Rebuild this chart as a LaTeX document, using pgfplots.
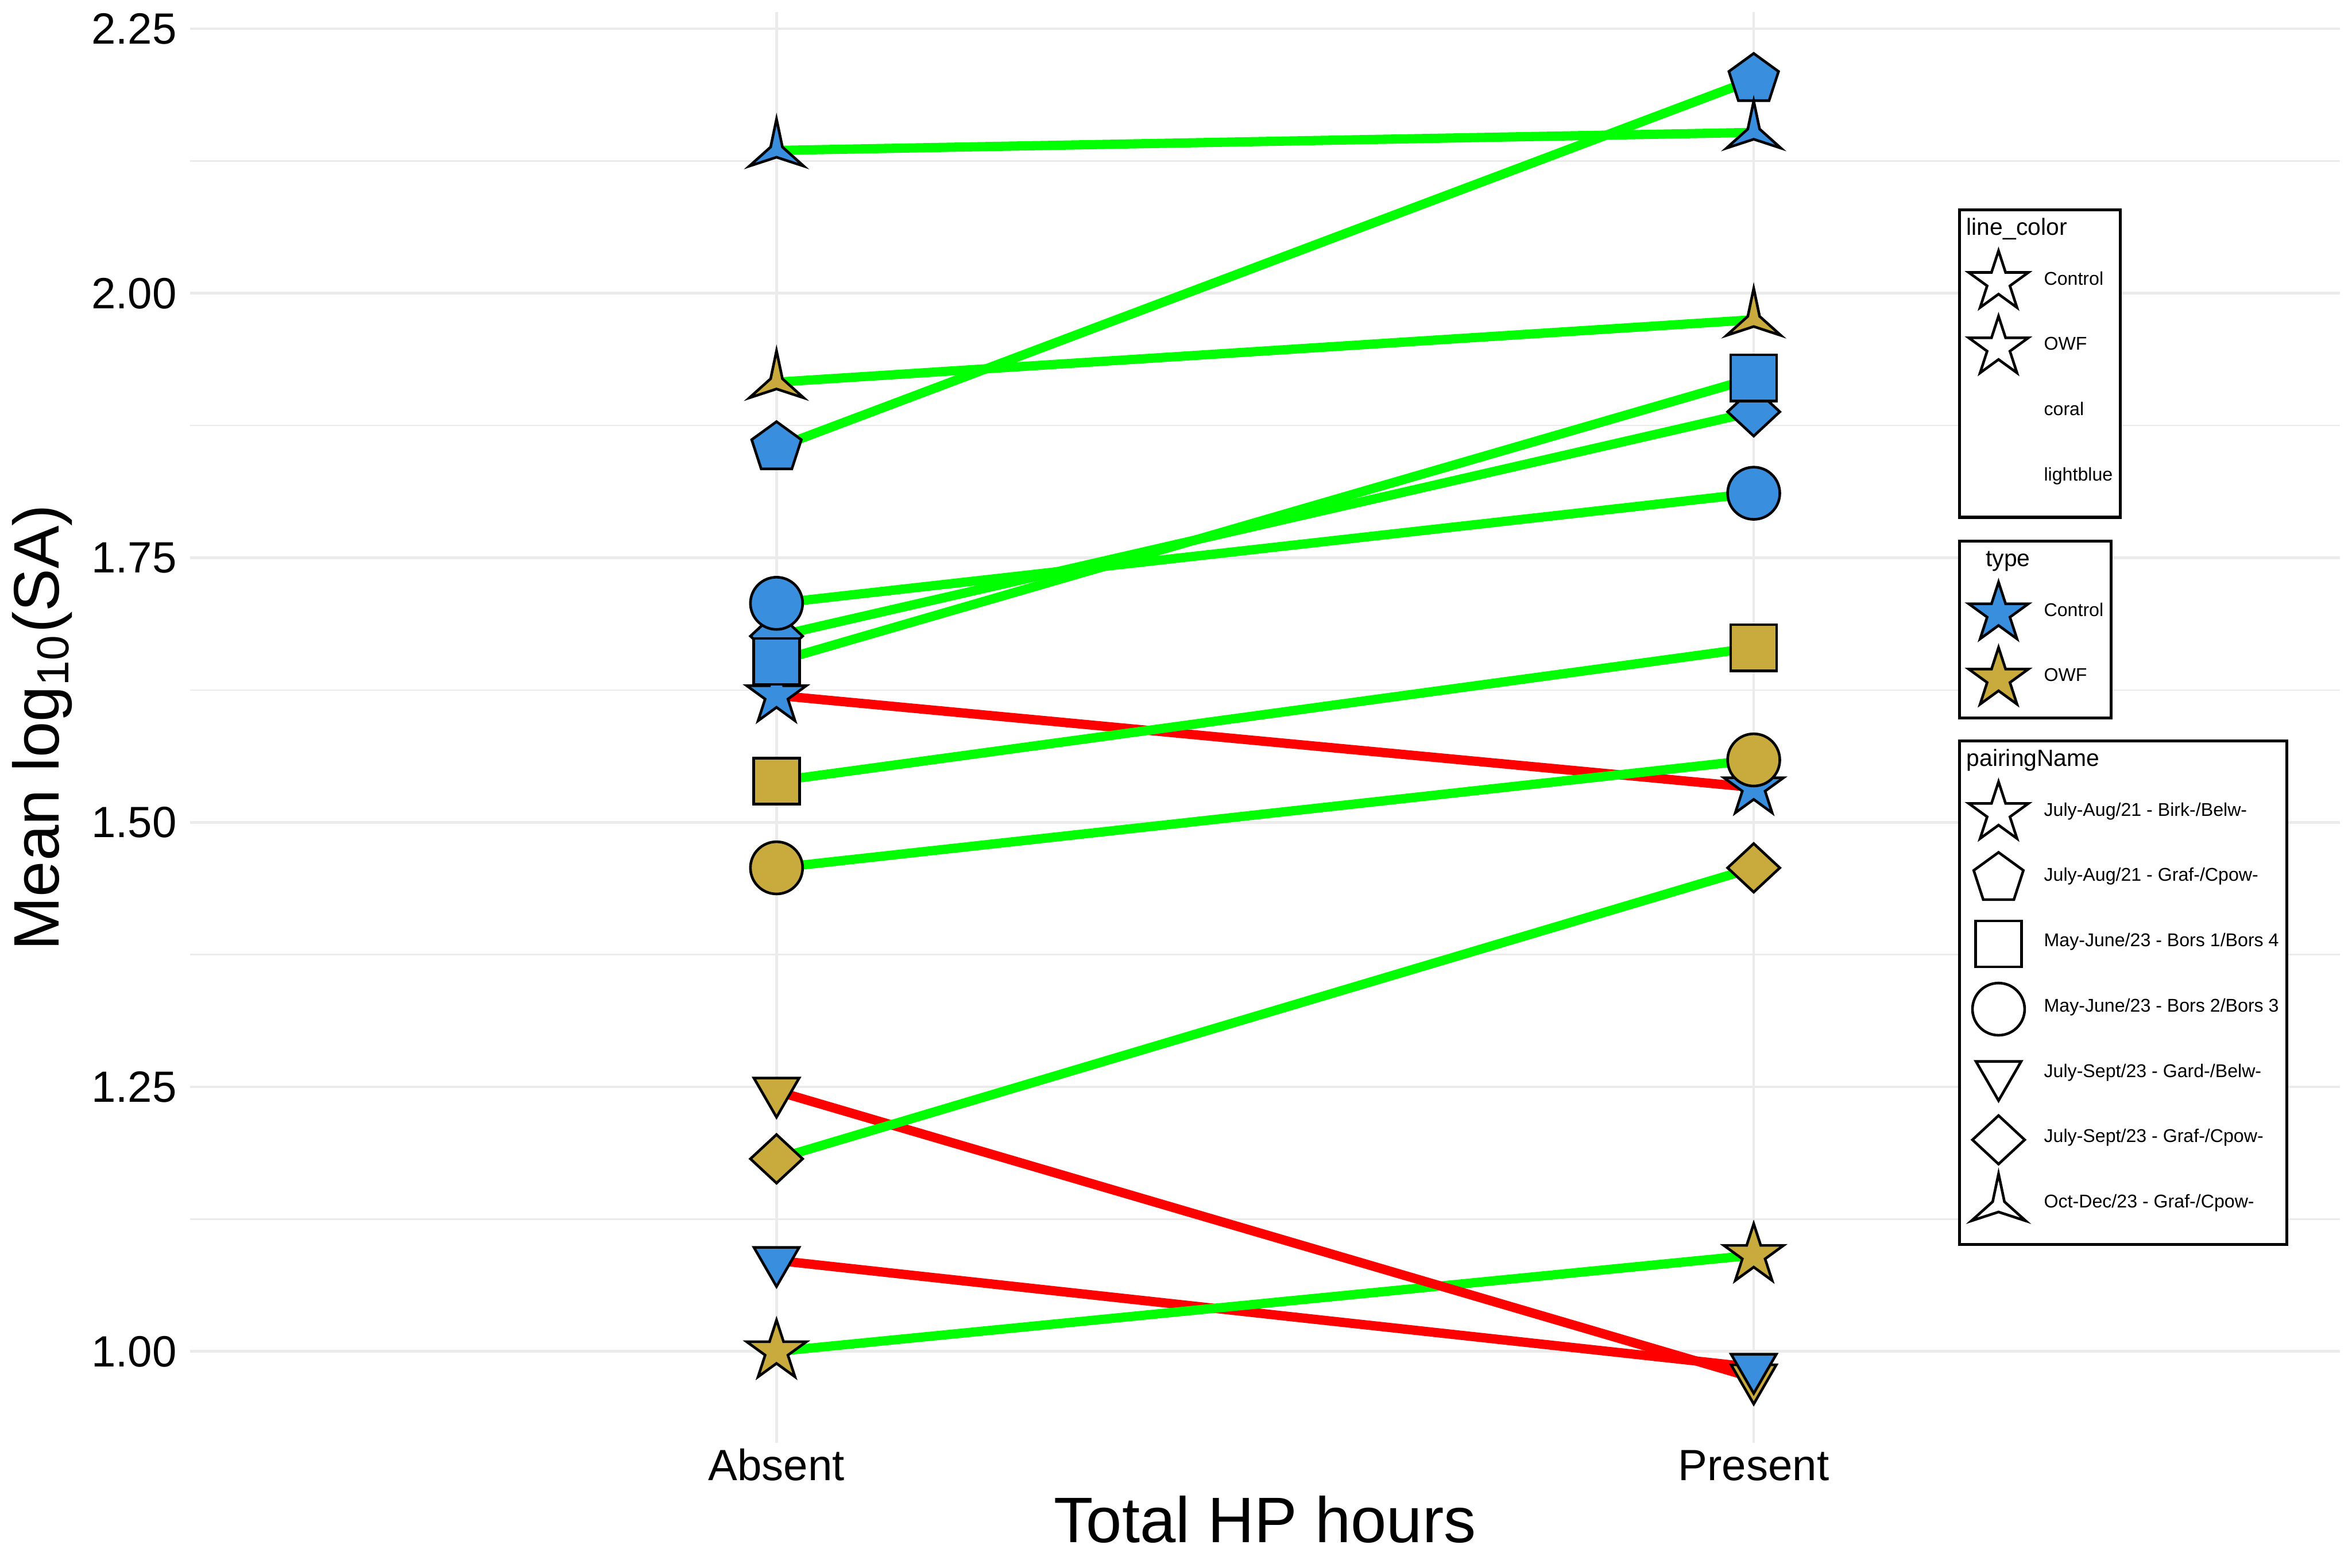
\documentclass[border=0pt]{standalone}
\usepackage{fontspec}
\setmainfont{Liberation Sans}
\usepackage{pgfplots}
\pgfplotsset{compat=1.18}
\usetikzlibrary{plotmarks}

\definecolor{cblue}{RGB}{58,142,222}
\definecolor{cgold}{RGB}{201,170,61}
\definecolor{cgreen}{RGB}{0,255,0}
\definecolor{cred}{RGB}{255,0,0}
\definecolor{cgrid}{RGB}{235,235,235}

% five-pointed star
\pgfdeclareplotmark{gstar}{%
  \pgfpathmoveto{\pgfpointpolar{90}{\pgfplotmarksize}}%
  \pgfpathlineto{\pgfpointpolar{126}{0.382\pgfplotmarksize}}%
  \pgfpathlineto{\pgfpointpolar{162}{\pgfplotmarksize}}%
  \pgfpathlineto{\pgfpointpolar{198}{0.382\pgfplotmarksize}}%
  \pgfpathlineto{\pgfpointpolar{234}{\pgfplotmarksize}}%
  \pgfpathlineto{\pgfpointpolar{270}{0.382\pgfplotmarksize}}%
  \pgfpathlineto{\pgfpointpolar{306}{\pgfplotmarksize}}%
  \pgfpathlineto{\pgfpointpolar{342}{0.382\pgfplotmarksize}}%
  \pgfpathlineto{\pgfpointpolar{18}{\pgfplotmarksize}}%
  \pgfpathlineto{\pgfpointpolar{54}{0.382\pgfplotmarksize}}%
  \pgfpathclose
  \pgfusepathqfillstroke}
% three-pointed star
\pgfdeclareplotmark{tstar}{%
  \pgfpathmoveto{\pgfpointpolar{90}{\pgfplotmarksize}}%
  \pgfpathlineto{\pgfpointpolar{150}{0.217\pgfplotmarksize}}%
  \pgfpathlineto{\pgfpointpolar{210}{\pgfplotmarksize}}%
  \pgfpathlineto{\pgfpointpolar{270}{0.217\pgfplotmarksize}}%
  \pgfpathlineto{\pgfpointpolar{330}{\pgfplotmarksize}}%
  \pgfpathlineto{\pgfpointpolar{30}{0.217\pgfplotmarksize}}%
  \pgfpathclose
  \pgfusepathqfillstroke}
% pentagon
\pgfdeclareplotmark{gpent}{%
  \pgfpathmoveto{\pgfpointpolar{90}{\pgfplotmarksize}}%
  \pgfpathlineto{\pgfpointpolar{162}{\pgfplotmarksize}}%
  \pgfpathlineto{\pgfpointpolar{234}{\pgfplotmarksize}}%
  \pgfpathlineto{\pgfpointpolar{306}{\pgfplotmarksize}}%
  \pgfpathlineto{\pgfpointpolar{18}{\pgfplotmarksize}}%
  \pgfpathclose
  \pgfusepathqfillstroke}
% diamond
\pgfdeclareplotmark{gdiam}{%
  \pgfpathmoveto{\pgfpoint{0pt}{0.93\pgfplotmarksize}}%
  \pgfpathlineto{\pgfpoint{\pgfplotmarksize}{0pt}}%
  \pgfpathlineto{\pgfpoint{0pt}{-0.93\pgfplotmarksize}}%
  \pgfpathlineto{\pgfpoint{-\pgfplotmarksize}{0pt}}%
  \pgfpathclose
  \pgfusepathqfillstroke}
% triangle pointing down
\pgfdeclareplotmark{gtri}{%
  \pgfpathmoveto{\pgfpointpolar{270}{\pgfplotmarksize}}%
  \pgfpathlineto{\pgfpointpolar{30}{\pgfplotmarksize}}%
  \pgfpathlineto{\pgfpointpolar{150}{\pgfplotmarksize}}%
  \pgfpathclose
  \pgfusepathqfillstroke}
% square
\pgfdeclareplotmark{gsq}{%
  \pgfpathrectangle{\pgfpoint{-\pgfplotmarksize}{-\pgfplotmarksize}}{\pgfpoint{2\pgfplotmarksize}{2\pgfplotmarksize}}%
  \pgfusepathqfillstroke}
% circle
\pgfdeclareplotmark{gcirc}{%
  \pgfpathcircle{\pgfpointorigin}{\pgfplotmarksize}%
  \pgfusepathqfillstroke}

\tikzset{
  ltitle/.style={anchor=base west, text height=0.122cm, text depth=0.094cm, font=\fontsize{4.45}{5}\selectfont},
  mk/.style={mark options={draw=black, line width=0.5pt, fill=#1}},
}

\pgfplotsset{
  common/.style={
    scale only axis, width=14.331cm, height=9.540cm,
    xmin=-0.6, xmax=1.6, ymin=0.9135, ymax=2.2658,
    clip=false,
  },
  mylegend/.style={
    legend cell align=left,
    legend style={
      anchor=north west,
      draw=black, line width=0.55pt, fill=white,
      inner xsep=0.052cm, inner ysep=0.0453cm,
      row sep=0pt, column sep=0pt,
      font=\fontsize{3.5}{4}\selectfont,
      nodes={inner sep=0pt, anchor=west},
    },
    legend image code/.code={%
      \path[draw=none, fill=none] (-0.209cm,-0.2156cm) rectangle (0.303cm,0.22cm);
      \draw[##1] plot coordinates {(0cm,0cm)};
    },
  },
}

\begin{document}
\begin{tikzpicture}
\path[use as bounding box] (-1.268cm,-0.833cm) rectangle (14.411cm,9.620cm);

\begin{axis}[
  common, mylegend,
  legend style={at={(axis description cs:0.82227,0.86268)}},
  axis line style={draw=none},
  tick style={draw=none},
  xtick={0,1}, xticklabels={Absent,Present},
  ytick={1,1.25,1.5,1.75,2,2.25},
  minor ytick={1.125,1.375,1.625,1.875,2.125},
  grid=both,
  major grid style={cgrid, line width=0.5pt},
  minor grid style={cgrid, line width=0.28pt},
  /pgf/number format/assume math mode=true,
  yticklabel={\pgfmathprintnumber[fixed, fixed zerofill, precision=2]{\tick}},
  ticklabel style={font=\fontsize{8.3}{10}\selectfont},
  xticklabel style={anchor=base, inner sep=0pt, yshift=-0.251cm},
  yticklabel style={anchor=east, inner sep=0pt, xshift=-0.084cm},
  xlabel={Total HP hours},
  ylabel={Mean log\textsubscript{10}(SA)},
  every axis x label/.style={at={(axis description cs:0.5,-0.06939)}, anchor=base, inner sep=0pt, font=\fontsize{12.2}{14}\selectfont},
  every axis y label/.style={at={(axis description cs:-0.06106,0.5)}, rotate=90, anchor=base, inner sep=0pt, font=\fontsize{12.2}{14}\selectfont},
]
% ---- lines (Absent -> Present)
\addplot[cred, line width=1.75pt, forget plot] coordinates {(0,1.620) (1,1.533)};   % Control star
\addplot[cgreen, line width=1.75pt, forget plot] coordinates {(0,1.854) (1,2.202)}; % Control pentagon
\addplot[cgreen, line width=1.75pt, forget plot] coordinates {(0,1.652) (1,1.920)}; % Control square
\addplot[cgreen, line width=1.75pt, forget plot] coordinates {(0,1.707) (1,1.811)}; % Control circle
\addplot[cred, line width=1.75pt, forget plot] coordinates {(0,1.086) (1,0.985)};   % Control triangle
\addplot[cgreen, line width=1.75pt, forget plot] coordinates {(0,1.676) (1,1.888)}; % Control diamond
\addplot[cgreen, line width=1.75pt, forget plot] coordinates {(0,2.135) (1,2.152)}; % Control tristar
\addplot[cgreen, line width=1.75pt, forget plot] coordinates {(0,1.000) (1,1.091)}; % OWF star
\addplot[cgreen, line width=1.75pt, forget plot] coordinates {(0,1.539) (1,1.665)}; % OWF square
\addplot[cgreen, line width=1.75pt, forget plot] coordinates {(0,1.457) (1,1.559)}; % OWF circle
\addplot[cred, line width=1.75pt, forget plot] coordinates {(0,1.246) (1,0.975)};   % OWF triangle
\addplot[cgreen, line width=1.75pt, forget plot] coordinates {(0,1.182) (1,1.457)}; % OWF diamond
\addplot[cgreen, line width=1.75pt, forget plot] coordinates {(0,1.916) (1,1.975)}; % OWF tristar
% ---- points
\addplot[only marks, mark=gstar, mark size=5.95pt, mk=cblue, forget plot] coordinates {(0,1.620) (1,1.533)};
\addplot[only marks, mark=gstar, mark size=5.95pt, mk=cgold, forget plot] coordinates {(0,1.000) (1,1.091)};
\addplot[only marks, mark=gdiam, mark size=4.95pt, mk=cblue, forget plot] coordinates {(0,1.676) (1,1.888)};
\addplot[only marks, mark=gdiam, mark size=4.95pt, mk=cgold, forget plot] coordinates {(0,1.182) (1,1.457)};
\addplot[only marks, mark=gpent, mark size=4.95pt, mk=cblue, forget plot] coordinates {(0,1.854) (1,2.202)};
\addplot[only marks, mark=tstar, mark size=5.95pt, mk=cblue, forget plot] coordinates {(0,2.135) (1,2.152)};
\addplot[only marks, mark=tstar, mark size=5.95pt, mk=cgold, forget plot] coordinates {(0,1.916) (1,1.975)};
\addplot[only marks, mark=gtri, mark size=4.95pt, mk=cgold, forget plot] coordinates {(0,1.246) (1,0.975)};
\addplot[only marks, mark=gtri, mark size=4.95pt, mk=cblue, forget plot] coordinates {(0,1.086) (1,0.985)};
\addplot[only marks, mark=gsq, mark size=4.36pt, mk=cblue, forget plot] coordinates {(0,1.652) (1,1.920)};
\addplot[only marks, mark=gsq, mark size=4.36pt, mk=cgold, forget plot] coordinates {(0,1.539) (1,1.665)};
\addplot[only marks, mark=gcirc, mark size=4.95pt, mk=cblue, forget plot] coordinates {(0,1.707) (1,1.811)};
\addplot[only marks, mark=gcirc, mark size=4.95pt, mk=cgold, forget plot] coordinates {(0,1.457) (1,1.559)};
% ---- legend: line_color
\addlegendimage{empty legend}
\addlegendentry[ltitle]{\hspace*{-0.516cm}line\_color}
\addlegendimage{mark=gstar, mark size=5.95pt, mk=white}
\addlegendentry{Control}
\addlegendimage{mark=gstar, mark size=5.95pt, mk=white}
\addlegendentry{OWF}
\addlegendimage{mark=none, draw=none}
\addlegendentry{coral}
\addlegendimage{mark=none, draw=none}
\addlegendentry{lightblue}
\end{axis}

% ---- legend: type
\begin{axis}[common, hide axis, mylegend,
  legend style={at={(axis description cs:0.82227,0.63113)}}]
\addlegendimage{empty legend}
\addlegendentry[ltitle]{\hspace*{-0.516cm}type}
\addlegendimage{mark=gstar, mark size=5.95pt, mk=cblue}
\addlegendentry{Control}
\addlegendimage{mark=gstar, mark size=5.95pt, mk=cgold}
\addlegendentry{OWF}
\end{axis}

% ---- legend: pairingName
\begin{axis}[common, hide axis, mylegend,
  legend style={at={(axis description cs:0.82227,0.49161)}}]
\addlegendimage{empty legend}
\addlegendentry[ltitle]{\hspace*{-0.516cm}pairingName}
\addlegendimage{mark=gstar, mark size=5.95pt, mk=white}
\addlegendentry{July-Aug/21 - Birk-/Belw-}
\addlegendimage{mark=gpent, mark size=4.95pt, mk=white}
\addlegendentry{July-Aug/21 - Graf-/Cpow-}
\addlegendimage{mark=gsq, mark size=4.36pt, mk=white}
\addlegendentry{May-June/23 - Bors 1/Bors 4}
\addlegendimage{mark=gcirc, mark size=4.95pt, mk=white}
\addlegendentry{May-June/23 - Bors 2/Bors 3}
\addlegendimage{mark=gtri, mark size=4.95pt, mk=white}
\addlegendentry{July-Sept/23 - Gard-/Belw-}
\addlegendimage{mark=gdiam, mark size=4.95pt, mk=white}
\addlegendentry{July-Sept/23 - Graf-/Cpow-}
\addlegendimage{mark=tstar, mark size=5.95pt, mk=white}
\addlegendentry{Oct-Dec/23 - Graf-/Cpow-}
\end{axis}
\end{tikzpicture}
\end{document}
